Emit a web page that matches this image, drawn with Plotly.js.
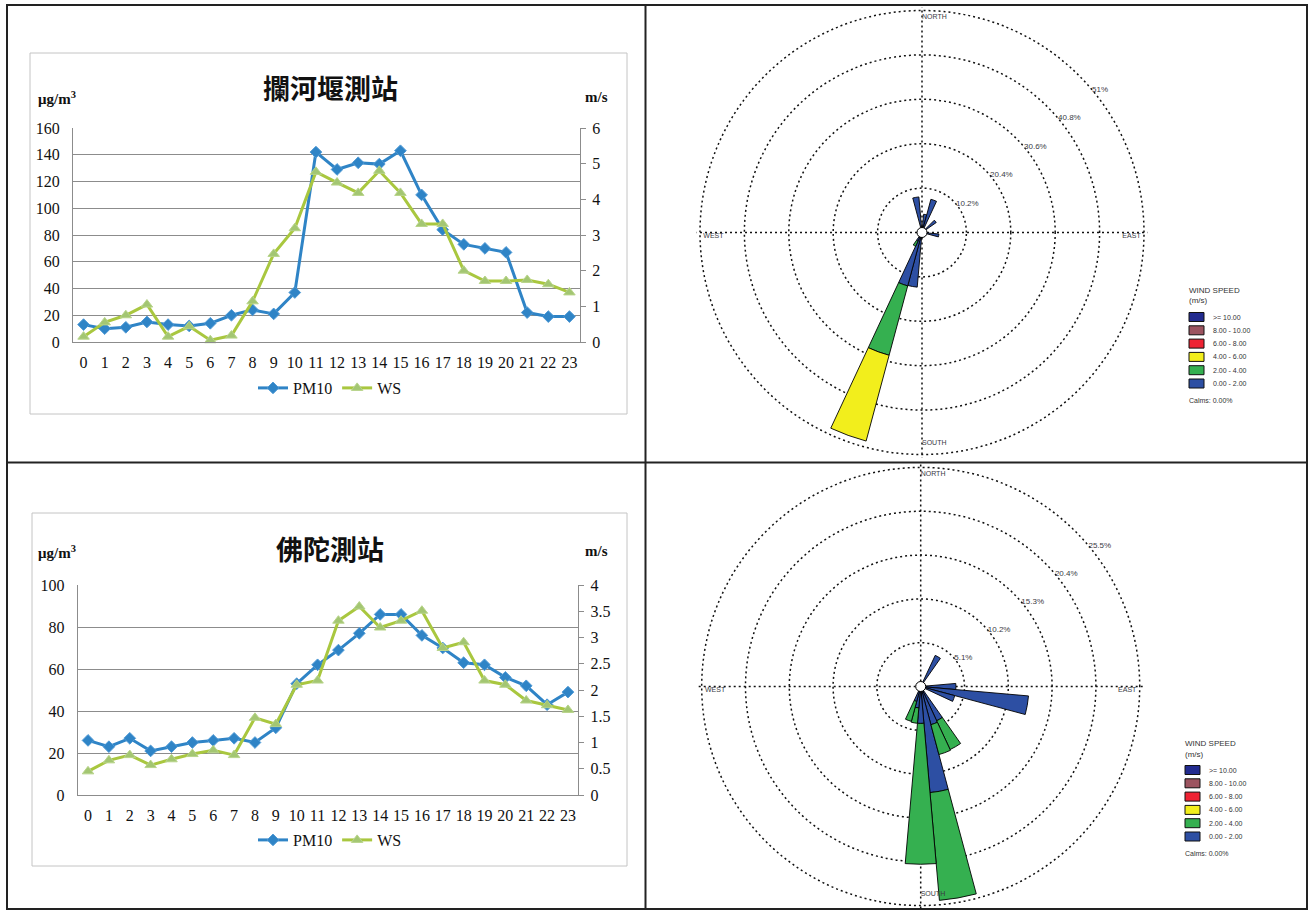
<!DOCTYPE html>
<html>
<head>
<meta charset="utf-8">
<script src="https://cdn.plot.ly/plotly-3.0.1.min.js"></script>
<style>
  html, body { margin: 0; padding: 0; background: #fff; }
  #chart { width: 1315px; height: 910px; }
</style>
</head>
<body>
<div id="chart"></div>
<script>
// ---- Hourly averages (hour of day) ----
const hours = [0, 1, 2, 3, 4, 5, 6, 7, 8, 9, 10, 11, 12, 13, 14, 15, 16, 17, 18, 19, 20, 21, 22, 23];

// 攔河堰測站
const lanhePM10 = [13, 10, 11, 15, 13, 12, 14, 20, 24, 21, 37, 142, 129, 134, 133, 143, 110, 84, 73, 70, 67, 22, 19, 19];
const lanheWS = [0.15, 0.55, 0.75, 1.05, 0.15, 0.44, 0.05, 0.18, 1.14, 2.47, 3.19, 4.77, 4.47, 4.18, 4.8, 4.18, 3.31, 3.31, 2.0, 1.71, 1.71, 1.74, 1.62, 1.39];

// 佛陀測站
const fotuoPM10 = [26, 23, 27, 21, 23, 25, 26, 27, 25, 32, 53, 62, 69, 77, 86, 86, 76, 70, 63, 62, 56, 52, 43, 49];
const fotuoWS = [0.45, 0.66, 0.76, 0.57, 0.68, 0.78, 0.85, 0.76, 1.47, 1.35, 2.10, 2.18, 3.32, 3.59, 3.19, 3.32, 3.51, 2.80, 2.91, 2.18, 2.10, 1.80, 1.71, 1.62];

// ---- Wind roses: frequency (%) per direction bin (10 deg) and speed class ----
const speedClasses = ['0.00 - 2.00', '2.00 - 4.00', '4.00 - 6.00', '6.00 - 8.00', '8.00 - 10.00', '>= 10.00'];
const speedColors = ['#2d4fa3', '#35b050', '#f2ee1c', '#ee2233', '#9c5460', '#222b8f'];

const lanheDirs = [10, 20, 50, 100, 190, 200, 210, 350];
const lanheWs0to2 = [4.2, 7.9, 4.0, 3.9, 12.6, 12.7, 2.2, 8.2];
const lanheWs2to4 = [0, 0, 0, 0, 0, 16.5, 1.3, 0];
const lanheWs4to6 = [0, 0, 0, 0, 0, 20.4, 0, 0];
const lanheWs6to8 = [0, 0, 0, 0, 0, 0, 0, 0];
const lanheWs8to10 = [0, 0, 0, 0, 0, 0, 0, 0];
const lanheWs10up = [0, 0, 0, 0, 0, 0, 0, 0];
const lanheRings = [10.2, 20.4, 30.6, 40.8, 51];
const lanheCalms = 'Calms: 0.00%';

const fotuoDirs = [30, 90, 100, 110, 150, 160, 170, 180, 190, 200];
const fotuoWs0to2 = [4.0, 4.1, 12.6, 4.1, 4.4, 4.6, 12.4, 4.3, 2.5, 1.8];
const fotuoWs2to4 = [0, 0, 0, 0, 3.7, 3.6, 12.6, 16.4, 1.8, 2.4];
const fotuoWs4to6 = [0, 0, 0, 0, 0, 0, 0, 0, 0, 0];
const fotuoWs6to8 = [0, 0, 0, 0, 0, 0, 0, 0, 0, 0];
const fotuoWs8to10 = [0, 0, 0, 0, 0, 0, 0, 0, 0, 0];
const fotuoWs10up = [0, 0, 0, 0, 0, 0, 0, 0, 0, 0];
const fotuoRings = [5.1, 10.2, 15.3, 20.4, 25.5];
const fotuoCalms = 'Calms: 0.00%';

const compassLabels = ['NORTH', 'EAST', 'SOUTH', 'WEST'];
const compassAngles = [0, 90, 180, 270];

// ---- page geometry helpers (pixels -> paper) ----
const W = 1315, H = 910;
const px = x => x / W;
const py = y => 1 - y / H;

const PM_BLUE = '#2f84c6';
const WS_GREEN = '#a9c73f';
const WS_MARK = '#a3c672';
const SERIF = 'Liberation Serif, Times New Roman, serif';
const SANS = 'Liberation Sans, Arial, sans-serif';
const CJK = 'Noto Sans CJK TC, Noto Sans CJK SC, sans-serif';
const LABEL_GREY = '#3a3a44';

// the radial axis runs a little past the outer ring so that ring is drawn as a gridline
const RING_PAD = 1.015;

const traces = [];
const annotations = [];
const shapes = [];

// ---- line charts ----
function lineChart(pm, ws, xa, yl, yr, legendId) {
  traces.push({
    x: hours, y: pm, xaxis: xa, yaxis: yl, name: 'PM10', legend: legendId,
    mode: 'lines+markers', line: { color: PM_BLUE, width: 3 },
    marker: { symbol: 'diamond', size: 9, color: PM_BLUE, line: { color: '#4f9ad6', width: 1 } },
    cliponaxis: false, hoverinfo: 'x+y'
  });
  traces.push({
    x: hours, y: ws, xaxis: xa, yaxis: yr, name: 'WS', legend: legendId,
    mode: 'lines+markers', line: { color: WS_GREEN, width: 3 },
    marker: { symbol: 'triangle-up', size: 10, color: WS_MARK, line: { color: '#b8d48a', width: 1 } },
    cliponaxis: false, hoverinfo: 'x+y'
  });
}
lineChart(lanhePM10, lanheWS, 'x', 'y', 'y2', 'legend');
lineChart(fotuoPM10, fotuoWS, 'x2', 'y3', 'y4', 'legend2');

// ---- wind roses ----
function windRose(subplot, dirs, classes, rings) {
  classes.forEach((vals, i) => {
    if (!vals.some(v => v > 0)) return;
    traces.push({
      type: 'barpolar', subplot: subplot, r: vals, theta: dirs, width: 10,
      name: speedClasses[i], showlegend: false,
      marker: { color: speedColors[i], line: { color: '#000', width: 0.9 } },
      hoverinfo: 'r+theta'
    });
  });
  const rMax = rings[rings.length - 1];
  // ring labels
  traces.push({
    type: 'scatterpolar', subplot: subplot, mode: 'text',
    r: rings, theta: rings.map(() => 50), text: rings.map(v => v + '%'),
    textposition: 'middle right', textfont: { family: SANS, size: 8, color: LABEL_GREY },
    showlegend: false, hoverinfo: 'skip', cliponaxis: false
  });
  // compass labels
  traces.push({
    type: 'scatterpolar', subplot: subplot, mode: 'text',
    r: [rMax * 0.97, rMax * 0.985, rMax * 0.95, rMax * 0.985], theta: compassAngles,
    text: compassLabels,
    textposition: ['middle right', 'bottom left', 'middle right', 'bottom right'],
    textfont: { family: SANS, size: 7, color: LABEL_GREY },
    showlegend: false, hoverinfo: 'skip', cliponaxis: false
  });
  // calm circle at the centre
  traces.push({
    type: 'scatterpolar', subplot: subplot, mode: 'markers', r: [0], theta: [0],
    marker: { size: 10, color: '#fff', line: { color: '#000', width: 1 } },
    showlegend: false, hoverinfo: 'skip', cliponaxis: false
  });
}
windRose('polar', lanheDirs, [lanheWs0to2, lanheWs2to4, lanheWs4to6, lanheWs6to8, lanheWs8to10, lanheWs10up], lanheRings);
windRose('polar2', fotuoDirs, [fotuoWs0to2, fotuoWs2to4, fotuoWs4to6, fotuoWs6to8, fotuoWs8to10, fotuoWs10up], fotuoRings);

function polarLayout(cx, cy, R, rings) {
  const rMax = rings[rings.length - 1];
  const Rp = R * RING_PAD;
  const grid = { gridcolor: '#111', griddash: '2px,3px', gridwidth: 1.5 };
  return {
    domain: { x: [px(cx - Rp), px(cx + Rp)], y: [py(cy + Rp), py(cy - Rp)] },
    bgcolor: 'rgba(0,0,0,0)', barmode: 'stack',
    radialaxis: Object.assign({ range: [0, rMax * RING_PAD], tickvals: rings, showticklabels: false, ticks: '', showline: false }, grid),
    angularaxis: Object.assign({ rotation: 90, direction: 'clockwise', tickvals: compassAngles, showticklabels: false, ticks: '', showline: false }, grid)
  };
}

// ---- wind-speed key beside each rose ----
function roseKey(x0, yTitle, calmsText) {
  const font = { family: SANS, size: 7, color: '#333' };
  annotations.push({ xref: 'paper', yref: 'paper', x: px(x0), y: py(yTitle), xanchor: 'left', yanchor: 'middle',
    text: 'WIND SPEED', showarrow: false, font: { family: SANS, size: 8, color: '#333' } });
  annotations.push({ xref: 'paper', yref: 'paper', x: px(x0), y: py(yTitle + 11), xanchor: 'left', yanchor: 'middle',
    text: '(m/s)', showarrow: false, font: { family: SANS, size: 8, color: '#333' } });
  const order = speedClasses.map((_, i) => i).reverse();
  order.forEach((ci, row) => {
    const yc = yTitle + 27 + row * 13.3;
    shapes.push({ type: 'rect', xref: 'paper', yref: 'paper', x0: px(x0 + 2), x1: px(x0 + 17),
      y0: py(yc + 4.5), y1: py(yc - 4.5), fillcolor: speedColors[ci], line: { color: '#111', width: 1 } });
    annotations.push({ xref: 'paper', yref: 'paper', x: px(x0 + 24), y: py(yc), xanchor: 'left', yanchor: 'middle',
      text: speedClasses[ci], showarrow: false, font: font });
  });
  annotations.push({ xref: 'paper', yref: 'paper', x: px(x0), y: py(yTitle + 27 + 5 * 13.3 + 17), xanchor: 'left', yanchor: 'middle',
    text: calmsText, showarrow: false, font: font });
}
roseKey(1187, 290, lanheCalms);
roseKey(1183, 743, fotuoCalms);

// ---- chart titles and units ----
function chartText(title, tx, ty, unitY) {
  annotations.push({ xref: 'paper', yref: 'paper', x: px(tx), y: py(ty), xanchor: 'center', yanchor: 'middle',
    text: '<b>' + title + '</b>', showarrow: false, font: { family: CJK, size: 27, color: '#111' } });
  annotations.push({ xref: 'paper', yref: 'paper', x: px(36), y: py(unitY), xanchor: 'left', yanchor: 'middle',
    text: '<b>μg/m<sup>3</sup></b>', showarrow: false, font: { family: SERIF, size: 15, color: '#111' } });
  annotations.push({ xref: 'paper', yref: 'paper', x: px(583), y: py(unitY - 1), xanchor: 'left', yanchor: 'middle',
    text: '<b>m/s</b>', showarrow: false, font: { family: SERIF, size: 15, color: '#111' } });
}
chartText('攔河堰測站', 330, 88, 98);
chartText('佛陀測站', 330, 548, 552);

// ---- frames and table rules ----
function rect(x0, y0, x1, y1, color, width) {
  shapes.push({ type: 'rect', xref: 'paper', yref: 'paper', layer: 'below',
    x0: px(x0), x1: px(x1), y0: py(y1), y1: py(y0), line: { color: color, width: width } });
}
function rule(x0, y0, x1, y1) {
  shapes.push({ type: 'line', xref: 'paper', yref: 'paper', layer: 'below',
    x0: px(x0), x1: px(x1), y0: py(y0), y1: py(y1), line: { color: '#222', width: 2 } });
}
rect(30, 53, 627, 414, '#c4c4c4', 1);
rect(32, 513, 627, 866, '#c4c4c4', 1);
rect(7, 5, 1307, 909, '#222', 2);
rule(645.5, 5, 645.5, 909);
rule(7, 462.5, 1307, 462.5);

// ---- axes ----
const tickFont = { family: SERIF, size: 16, color: '#111' };
const xBase = { range: [-0.5, 23.5], tickmode: 'linear', tick0: 0, dtick: 1, showgrid: false, zeroline: false,
  showline: true, linecolor: '#8c8c8c', linewidth: 1, ticks: '', tickfont: tickFont, ticklabelstandoff: 6, fixedrange: true };
const yLeftBase = { zeroline: false, showline: true, linecolor: '#8c8c8c', gridcolor: '#8c8c8c', gridwidth: 1,
  ticks: '', tickfont: tickFont, ticklabelstandoff: 9, fixedrange: true };
const yRightBase = { side: 'right', showgrid: false, zeroline: false, showline: true, linecolor: '#8c8c8c',
  ticks: 'outside', ticklen: 5, tickcolor: '#8c8c8c', tickfont: tickFont, ticklabelstandoff: 3, fixedrange: true };

const layout = {
  width: W, height: H, margin: { l: 0, r: 0, t: 0, b: 0 },
  paper_bgcolor: '#fff', plot_bgcolor: 'rgba(0,0,0,0)',
  xaxis: Object.assign({}, xBase, { domain: [px(73), px(580)], anchor: 'y' }),
  yaxis: Object.assign({}, yLeftBase, { domain: [py(342), py(128)], anchor: 'x', range: [0, 160], dtick: 20 }),
  yaxis2: Object.assign({}, yRightBase, { overlaying: 'y', anchor: 'x', range: [0, 6], dtick: 1 }),
  xaxis2: Object.assign({}, xBase, { domain: [px(77.6), px(578.4)], anchor: 'y3' }),
  yaxis3: Object.assign({}, yLeftBase, { domain: [py(795), py(585)], anchor: 'x2', range: [0, 100], dtick: 20 }),
  yaxis4: Object.assign({}, yRightBase, { overlaying: 'y3', anchor: 'x2', range: [0, 4], dtick: 0.5 }),
  polar: polarLayout(922, 232.5, 222, lanheRings),
  polar2: polarLayout(920.7, 686.5, 219, fotuoRings),
  legend: { orientation: 'h', x: px(330), xanchor: 'center', y: py(388), yanchor: 'middle',
    font: { family: SERIF, size: 16, color: '#111' }, bgcolor: 'rgba(0,0,0,0)', itemwidth: 30, tracegroupgap: 0 },
  legend2: { orientation: 'h', x: px(330), xanchor: 'center', y: py(840), yanchor: 'middle',
    font: { family: SERIF, size: 16, color: '#111' }, bgcolor: 'rgba(0,0,0,0)', itemwidth: 30, tracegroupgap: 0 },
  annotations: annotations,
  shapes: shapes,
  showlegend: true
};

Plotly.newPlot('chart', traces, layout, { displayModeBar: false, staticPlot: true });
</script>
</body>
</html>
